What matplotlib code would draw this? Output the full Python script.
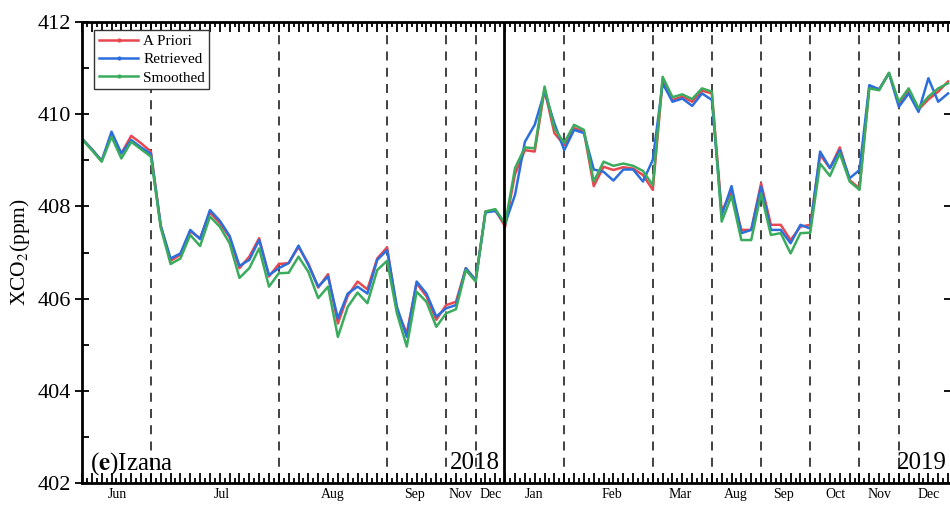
import matplotlib
matplotlib.use('Agg')
import matplotlib.pyplot as plt
from matplotlib.lines import Line2D
from matplotlib.ticker import MultipleLocator
import numpy as np

# XCO2 at Izana, one value per observation slot (index on x axis)
apriori = [409.47, 409.24, 408.99, 409.55, 409.15, 409.53, 409.37, 409.19, 407.58, 406.82,
           406.95, 407.46, 407.31, 407.87, 407.64, 407.33, 406.66, 406.91, 407.31, 406.48,
           406.75, 406.77, 407.12, 406.76, 406.24, 406.53, 405.46, 406.06, 406.37, 406.20,
           406.87, 407.11, 405.75, 405.25, 406.33, 406.05, 405.54, 405.86, 405.93, 406.66,
           406.40, 407.89, 407.92, 407.56, 408.70, 409.22, 409.19, 410.53, 409.59, 409.33,
           409.70, 409.62, 408.44, 408.86, 408.79, 408.85, 408.82, 408.68, 408.36, 410.74,
           410.31, 410.38, 410.27, 410.51, 410.45, 407.89, 408.32, 407.49, 407.49, 408.50,
           407.60, 407.60, 407.27, 407.56, 407.60, 409.12, 408.83, 409.28, 408.57, 408.39,
           410.60, 410.54, 410.89, 410.22, 410.50, 410.10, 410.32, 410.49, 410.71]
retrieved = [409.47, 409.24, 408.99, 409.62, 409.15, 409.44, 409.28, 409.14, 407.58, 406.87,
             406.98, 407.49, 407.29, 407.92, 407.69, 407.36, 406.71, 406.84, 407.27, 406.51,
             406.66, 406.77, 407.15, 406.73, 406.26, 406.48, 405.57, 406.11, 406.26, 406.11,
             406.84, 407.05, 405.82, 405.17, 406.37, 406.11, 405.61, 405.79, 405.86, 406.66,
             406.40, 407.87, 407.90, 407.63, 408.25, 409.40, 409.77, 410.49, 409.80, 409.22,
             409.66, 409.59, 408.80, 408.75, 408.56, 408.80, 408.80, 408.54, 409.01, 410.67,
             410.27, 410.34, 410.18, 410.45, 410.31, 407.81, 408.44, 407.42, 407.49, 408.43,
             407.49, 407.49, 407.20, 407.60, 407.52, 409.19, 408.83, 409.22, 408.61, 408.79,
             410.63, 410.54, 410.89, 410.16, 410.45, 410.05, 410.78, 410.27, 410.45]
smoothed = [409.46, 409.22, 408.97, 409.51, 409.04, 409.40, 409.24, 409.08, 407.54, 406.75,
            406.87, 407.38, 407.14, 407.78, 407.56, 407.20, 406.45, 406.66, 407.09, 406.26,
            406.55, 406.56, 406.91, 406.58, 406.01, 406.26, 405.17, 405.82, 406.13, 405.90,
            406.62, 406.82, 405.68, 404.96, 406.15, 405.93, 405.39, 405.68, 405.77, 406.62,
            406.37, 407.89, 407.94, 407.62, 408.83, 409.28, 409.26, 410.60, 409.69, 409.38,
            409.77, 409.66, 408.54, 408.97, 408.88, 408.93, 408.88, 408.77, 408.46, 410.81,
            410.37, 410.43, 410.33, 410.56, 410.49, 407.67, 408.23, 407.27, 407.27, 408.28,
            407.38, 407.42, 406.98, 407.42, 407.43, 408.93, 408.66, 409.15, 408.54, 408.36,
            410.56, 410.52, 410.90, 410.27, 410.56, 410.13, 410.38, 410.56, 410.67]

month_dividers = [7, 20, 31, 37, 40, 49, 58, 64, 69, 74, 79, 83]
year_divider = 42.85
month_names = ['Jun', 'Jul', 'Aug', 'Sep', 'Nov', 'Dec', 'Jan', 'Feb', 'Mar',
               'Aug', 'Sep', 'Oct', 'Nov', 'Dec']
month_centers = [3.6, 14.2, 25.5, 33.8, 38.5, 41.5, 45.9, 53.8, 60.8,
                 66.4, 71.3, 76.6, 81.0, 86.0]

plt.rcParams['font.family'] = ['Liberation Serif', 'DejaVu Serif']
plt.rcParams['mathtext.fontset'] = 'stix'

c_red = '#e8474f'
c_blue = '#2c6fdc'
c_green = '#3bab5e'


def main():
	fig = plt.figure(figsize=(9.5, 5.05), dpi=100)
	# right spine sits on the image edge, as in the cropped original
	ax = fig.add_axes([82/950, 22/505, 869/950, 461/505])

	x = np.arange(len(apriori))
	ax.plot(x, apriori, color=c_red, lw=1.8)
	ax.plot(x, retrieved, color=c_blue, lw=1.8)
	ax.plot(x, smoothed, color=c_green, lw=1.8)

	for d in month_dividers:
		ax.axvline(d, color='#333333', lw=1.3, linestyle=(0, (5, 4)), zorder=0)
	ax.axvline(year_divider, color='black', lw=2, zorder=3)

	ax.set_xlim(0, 88.3)
	ax.set_ylim(402, 412)

	# ticks
	ax.xaxis.set_major_locator(MultipleLocator(1))
	ax.xaxis.set_minor_locator(MultipleLocator(0.5))
	ax.yaxis.set_major_locator(MultipleLocator(2))
	ax.yaxis.set_minor_locator(MultipleLocator(1))
	ax.tick_params(axis='x', which='major', direction='in', length=7, width=1.3,
				   top=True, labelbottom=False)
	ax.tick_params(axis='x', which='minor', direction='in', length=3.5, width=1.3, top=True)
	ax.tick_params(axis='y', which='major', direction='inout', length=10, width=1.3,
				   right=True, labelsize=16, pad=3)
	ax.tick_params(axis='y', which='minor', direction='in', length=5, width=1.3)
	for s in ax.spines.values():
		s.set_linewidth(2)

	ax.set_ylabel('XCO$_2$(ppm)', fontsize=15.5, labelpad=4)

	trans = ax.get_xaxis_transform()
	for name, c in zip(month_names, month_centers):
		ax.text(c, -0.024, name, transform=trans, ha='center', va='center', fontsize=10)

	ax.text(0.8, 402.3, r'($\mathbf{e}$)Izana', fontsize=18, ha='left', va='baseline')
	ax.text(42.5, 402.3, '2018', fontsize=18, ha='right', va='baseline')
	ax.text(87.9, 402.3, '2019', fontsize=18, ha='right', va='baseline')

	handles = [Line2D([], [], color=c, lw=1.8, marker='o', markersize=2)
			   for c in (c_red, c_blue, c_green)]
	leg = ax.legend(handles, ['A Priori', 'Retrieved', 'Smoothed'], loc='upper left',
					bbox_to_anchor=(0.014, 0.983), borderaxespad=0, fontsize=11,
					handlelength=2.6, handletextpad=0.3, labelspacing=0.3,
					borderpad=0.3, fancybox=False, framealpha=1)
	leg.get_frame().set_edgecolor('#333333')
	leg.get_frame().set_linewidth(1)

	fig.savefig('out.png', dpi=100)


if __name__ == '__main__':
	main()
